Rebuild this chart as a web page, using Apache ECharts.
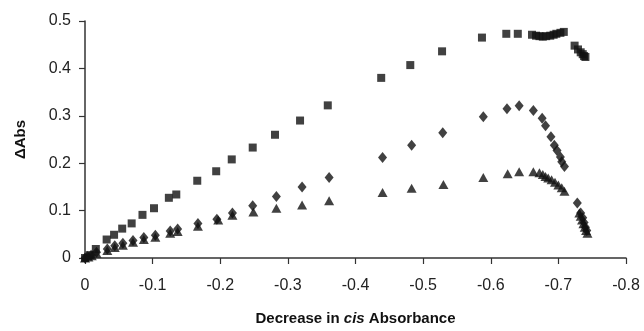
<!DOCTYPE html>
<html>
<head>
<meta charset="utf-8">
<script src="https://cdn.jsdelivr.net/npm/echarts@6/dist/echarts.min.js"></script>
<style>
  html, body { margin: 0; padding: 0; background: #fff; }
  #main { width: 644px; height: 331px; }
</style>
</head>
<body>
<div id="main"></div>
<script>
// squares
var sqX = [0, -0.007, -0.016, -0.032, -0.043, -0.055, -0.069, -0.085, -0.102, -0.124, -0.135, -0.166, -0.194, -0.217, -0.248, -0.281, -0.318, -0.359, -0.438, -0.481, -0.528, -0.587, -0.623, -0.640, -0.661, -0.667, -0.672, -0.677, -0.682, -0.688, -0.693, -0.697, -0.703, -0.708, -0.724, -0.729, -0.733, -0.736, -0.738, -0.740];
var sqY = [0, 0.006, 0.019, 0.039, 0.049, 0.062, 0.073, 0.091, 0.105, 0.127, 0.134, 0.163, 0.183, 0.208, 0.233, 0.260, 0.290, 0.322, 0.380, 0.407, 0.436, 0.465, 0.473, 0.473, 0.471, 0.469, 0.468, 0.467, 0.468, 0.469, 0.471, 0.473, 0.475, 0.477, 0.448, 0.440, 0.434, 0.430, 0.426, 0.424];
// diamonds
var diX = [0, -0.004, -0.009, -0.017, -0.033, -0.044, -0.056, -0.071, -0.087, -0.104, -0.126, -0.137, -0.167, -0.195, -0.218, -0.248, -0.283, -0.321, -0.361, -0.440, -0.483, -0.529, -0.589, -0.624, -0.642, -0.663, -0.676, -0.681, -0.689, -0.694, -0.698, -0.703, -0.705, -0.709, -0.728, -0.733, -0.736, -0.738, -0.740, -0.742];
var diY = [0, 0.003, 0.006, 0.012, 0.019, 0.026, 0.031, 0.037, 0.043, 0.048, 0.057, 0.061, 0.073, 0.082, 0.095, 0.110, 0.130, 0.150, 0.170, 0.212, 0.238, 0.264, 0.298, 0.315, 0.321, 0.311, 0.295, 0.279, 0.256, 0.238, 0.227, 0.213, 0.203, 0.193, 0.116, 0.095, 0.085, 0.075, 0.065, 0.058];
// triangles
var trX = [0, -0.005, -0.010, -0.017, -0.033, -0.044, -0.056, -0.071, -0.087, -0.104, -0.126, -0.137, -0.167, -0.197, -0.218, -0.249, -0.283, -0.321, -0.361, -0.440, -0.483, -0.530, -0.589, -0.625, -0.642, -0.663, -0.672, -0.677, -0.681, -0.685, -0.690, -0.695, -0.700, -0.705, -0.709, -0.731, -0.733, -0.735, -0.737, -0.739, -0.741, -0.743];
var trY = [0, 0.002, 0.005, 0.010, 0.016, 0.022, 0.027, 0.033, 0.039, 0.044, 0.052, 0.056, 0.067, 0.080, 0.090, 0.097, 0.105, 0.112, 0.121, 0.138, 0.147, 0.155, 0.170, 0.178, 0.182, 0.182, 0.180, 0.176, 0.172, 0.169, 0.165, 0.160, 0.154, 0.148, 0.141, 0.095, 0.088, 0.080, 0.072, 0.065, 0.058, 0.052];

function pairs(xs, ys) {
  var out = [];
  xs.forEach(function (x, i) { out.push([x, ys[i]]); });
  return out;
}
function fmt(v) {
  var r = Math.round(v * 10) / 10;
  return r === 0 ? '0' : r.toFixed(1);
}

var chart = echarts.init(document.getElementById('main'));
var font = 'Liberation Sans, Arial, sans-serif';
var ink = '#111';

var option = {
  animation: false,
  grid: { left: 85, right: 18, top: 21, bottom: 65 },
  xAxis: {
    type: 'value',
    min: -0.8, max: 0, interval: 0.1,
    inverse: true,
    name: '{n|Decrease in }{i|cis}{n| Absorbance}',
    nameLocation: 'middle',
    nameGap: 53,
    nameTextStyle: {
      rich: {
        n: { fontFamily: font, fontSize: 15, fontWeight: 'bold', color: ink },
        i: { fontFamily: font, fontSize: 15, fontWeight: 'bold', fontStyle: 'italic', color: ink }
      }
    },
    splitLine: { show: false },
    axisLine: { lineStyle: { color: '#333', width: 1.5 } },
    axisTick: { length: 6, lineStyle: { color: '#333', width: 1.2 } },
    axisLabel: { margin: 20, fontFamily: font, fontSize: 16, color: '#222', formatter: fmt }
  },
  yAxis: {
    type: 'value',
    min: 0, max: 0.5, interval: 0.1,
    name: 'ΔAbs',
    nameLocation: 'middle',
    nameGap: 57,
    nameRotate: 90,
    nameTextStyle: { fontFamily: font, fontSize: 15, fontWeight: 'bold', color: ink },
    splitLine: { show: false },
    axisLine: { show: true, lineStyle: { color: '#333', width: 1.5 } },
    axisTick: { show: true, length: 6, lineStyle: { color: '#333', width: 1.2 } },
    axisLabel: { margin: 14, fontFamily: font, fontSize: 16, color: '#222', formatter: fmt }
  },
  series: [
    { type: 'scatter', clip: false, symbol: 'rect', symbolSize: 8,
      itemStyle: { color: ink }, data: pairs(sqX, sqY) },
    { type: 'scatter', clip: false, symbol: 'diamond', symbolSize: [9, 11],
      itemStyle: { color: ink }, data: pairs(diX, diY) },
    { type: 'scatter', clip: false, symbol: 'triangle', symbolSize: [10, 9],
      itemStyle: { color: ink }, data: pairs(trX, trY) }
  ]
};
chart.setOption(option);
</script>
</body>
</html>
